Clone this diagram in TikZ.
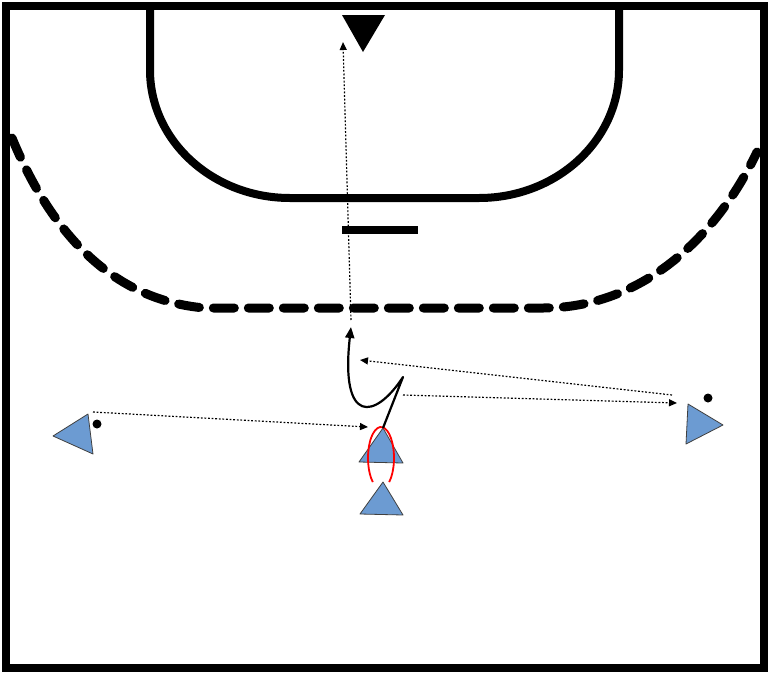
\documentclass[tikz,border=0pt]{standalone}
\usetikzlibrary{arrows.meta, positioning, calc}
\definecolor{playerblue}{RGB}{108,155,210}

\begin{document}
\begin{tikzpicture}[x=1pt, y=-1pt,
  courtline/.style = {line width=8pt},
  zoneline/.style = {line width=9pt, line cap=round, dash pattern=on 21pt off 14pt},
  player/.style = {draw=black!75, fill=playerblue, line width=0.8pt, line join=round},
  ballpt/.style = {circle, fill=black, inner sep=0pt, minimum size=9pt},
  passarrow/.style = {-{Triangle[length=8pt,width=7pt]}, dash pattern=on 1.8pt off 1.8pt, line width=1.2pt},
  runarrow/.style = {-{Triangle[length=11pt,width=9pt]}, line width=2.2pt},
  feint/.style = {red, line width=1.8pt}
]
\useasboundingbox (0,0) rectangle (768,675);
\draw[courtline] (6,6) rectangle (764,668);
\draw[courtline] (150,6) -- (150,70) arc[start angle=180, end angle=270, x radius=140pt, y radius=128pt]
  -- (479,198) arc[start angle=270, end angle=360, x radius=140pt, y radius=128pt] -- (619,6);
\draw[courtline] (342,230) -- (418,230);
\draw[zoneline] (12,138) .. controls (50,230) and (110,300) .. (205,308) -- (543,308)
  .. controls (640,308) and (715,240) .. (757,152);

\coordinate (gk) at (363,52);
\coordinate (lb) at (53,436);
\coordinate (rb) at (723,425);
\coordinate (cb) at (383,428);
\coordinate (cbnext) at (383,482);
\fill (gk) -- (342,15) -- (385,15) -- cycle;
\draw[player] (lb) -- (88,414) -- (93,454) -- cycle;
\draw[player] (rb) -- (688,404) -- (686,444) -- cycle;
\draw[player] (cb) -- (359,462) -- (403,463) -- cycle;
\draw[player] (cbnext) -- (360,514) -- (403,515) -- cycle;
\node[ballpt] (lball) at (97,424) {};
\node[ballpt] (rball) at (708,398) {};

\draw[feint] (381,458) ++(-51:13pt and 31pt) arc[start angle=-51, end angle=231, x radius=13pt, y radius=31pt];

\coordinate (lbpass) at (93,412);
\coordinate (cbcatch) at (368,427);
\coordinate (cut) at (403,377);
\coordinate (cbpass) at (403,395);
\coordinate (rbcatch) at (677,403);
\coordinate (rbpass) at (672,395);
\coordinate (cbcatch2) at (360,360);
\coordinate (runend) at (351,327);
\coordinate (shotstart) at (351,320);
\coordinate (shotend) at (343,42);

\draw[passarrow] (lbpass) -- (cbcatch);
\draw[runarrow, line join=round] (cb) -- (cut) .. controls (375,420) and (340,425) .. (runend);
\draw[passarrow] (cbpass) -- (rbcatch);
\draw[passarrow] (rbpass) -- (cbcatch2);
\draw[passarrow] (shotstart) -- (shotend);
\end{tikzpicture}
\end{document}
